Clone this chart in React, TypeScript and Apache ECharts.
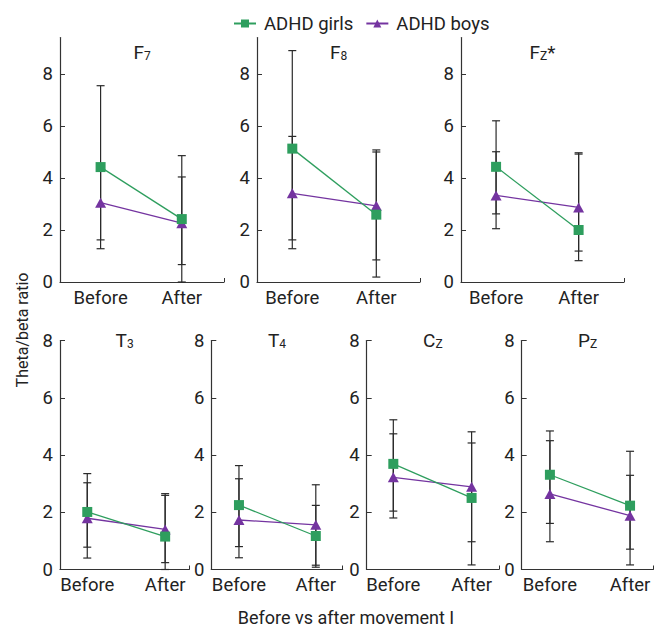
import React, { useEffect, useRef } from "react";
import * as echarts from "echarts";

// ---- data ----
const panelNames = ["F7", "F8", "Fz*", "T3", "T4", "Cz", "Pz"];
const timeLabels = ["Before", "After"];
const yTickValues = [0, 2, 4, 6, 8];

// means: [before, after]
const girlsMean = [
  [4.42, 2.42],
  [5.13, 2.59],
  [4.43, 2.0],
  [2.01, 1.15],
  [2.25, 1.17],
  [3.69, 2.5],
  [3.31, 2.23],
];
const boysMean = [
  [3.05, 2.26],
  [3.41, 2.93],
  [3.33, 2.87],
  [1.79, 1.4],
  [1.73, 1.56],
  [3.22, 2.89],
  [2.64, 1.88],
];
// error bar ends: [[beforeLow, beforeHigh], [afterLow, afterHigh]]
const girlsErr = [
  [[1.28, 7.55], [0.0, 4.86]],
  [[1.28, 8.9], [0.19, 5.0]],
  [[2.62, 6.2], [1.19, 4.97]],
  [[0.78, 3.35], [0.0, 2.65]],
  [[0.8, 3.63], [0.08, 2.24]],
  [[1.8, 5.23], [0.16, 4.81]],
  [[1.61, 4.84], [0.16, 4.13]],
];
const boysErr = [
  [[1.62, 4.48], [0.67, 4.04]],
  [[1.62, 5.6], [0.85, 5.08]],
  [[2.05, 5.01], [0.82, 4.92]],
  [[0.4, 3.03], [0.24, 2.59]],
  [[0.41, 3.17], [0.15, 2.96]],
  [[2.04, 4.74], [0.97, 4.42]],
  [[0.97, 4.5], [0.71, 3.29]],
];

// ---- layout ----
const GREEN = "#2e9e5e";
const PURPLE = "#7434a0";
const AXIS = "#333";
const FONT = "Roboto, 'Liberation Sans', sans-serif";

const layout = [
  { left: 60, width: 164, top: 37.6, height: 244.4, ymax: 9.4, xmin: 0.5, xmax: 2.52 },
  { left: 257, width: 163, top: 37.6, height: 244.4, ymax: 9.4, xmin: 0.58, xmax: 2.52 },
  { left: 461, width: 163, top: 37.6, height: 244.4, ymax: 9.4, xmin: 0.575, xmax: 2.55 },
  { left: 60, width: 129.3, top: 340.5, height: 229, ymax: 8, xmin: 0.65, xmax: 2.31 },
  { left: 211.3, width: 131.4, top: 340.5, height: 229, ymax: 8, xmin: 0.64, xmax: 2.35 },
  { left: 366.7, width: 132.3, top: 340.5, height: 229, ymax: 8, xmin: 0.66, xmax: 2.35 },
  { left: 521.7, width: 131.6, top: 340.5, height: 229, ymax: 8, xmin: 0.648, xmax: 2.29 },
];
const titleY = [42, 42, 42, 330, 330, 330, 330];

function titleRich(name: string) {
  const star = name.endsWith("*");
  const base = star ? name.slice(0, -1) : name;
  const main = base[0];
  const sub = base.slice(1).toUpperCase();
  return `{m|${main}}{s|${sub}}` + (star ? "{m|*}" : "");
}

export default function App() {
  const ref = useRef<HTMLDivElement>(null);
  useEffect(() => {
    if (!ref.current) return;
    const chart = echarts.init(ref.current, null, { renderer: "svg" });

    const grids = layout.map((l) => ({ left: l.left, top: l.top, width: l.width, height: l.height, containLabel: false }));
    const xAxes = layout.map((l, i) => ({
      type: "value",
      gridIndex: i,
      min: l.xmin,
      max: l.xmax,
      splitLine: { show: false },
      axisLine: { show: true, onZero: false, lineStyle: { color: AXIS, width: 1.2 } },
      axisTick: { show: true, inside: true, length: 4, customValues: [l.xmax], lineStyle: { color: AXIS } },
      axisLabel: {
        customValues: [1, 2],
        formatter: (v: number) => timeLabels[Math.round(v) - 1],
        color: "#222",
        fontSize: 18.5,
        fontFamily: FONT,
        margin: 6,
      },
    }));
    const yAxes = layout.map((l, i) => ({
      type: "value",
      gridIndex: i,
      min: 0,
      max: l.ymax,
      splitLine: { show: false },
      axisLine: { show: true, lineStyle: { color: AXIS, width: 1.2 } },
      axisTick: { show: true, inside: true, length: 5, customValues: [2, 4, 6, 8], lineStyle: { color: AXIS } },
      axisLabel: { customValues: yTickValues, color: "#222", fontSize: 18.5, fontFamily: FONT, margin: 7 },
    }));

    const series: any[] = [];
    panelNames.forEach((_, i) => {
      const errData = [
        [1, girlsErr[i][0][0], girlsErr[i][0][1]],
        [2, girlsErr[i][1][0], girlsErr[i][1][1]],
        [1, boysErr[i][0][0], boysErr[i][0][1]],
        [2, boysErr[i][1][0], boysErr[i][1][1]],
      ];
      series.push({
        type: "custom",
        name: "err" + i,
        xAxisIndex: i,
        yAxisIndex: i,
        z: 1,
        silent: true,
        data: errData,
        encode: { x: 0, y: [1, 2] },
        renderItem: (params: any, api: any) => {
          const x = api.value(0);
          const lo = api.coord([x, api.value(1)]);
          const hi = api.coord([x, api.value(2)]);
          const hw = 4;
          const style = { stroke: "#2a2a2a", lineWidth: 1.2 };
          return {
            type: "group",
            children: [
              { type: "line", shape: { x1: lo[0], y1: lo[1], x2: hi[0], y2: hi[1] }, style },
              { type: "line", shape: { x1: lo[0] - hw, y1: lo[1], x2: lo[0] + hw, y2: lo[1] }, style },
              { type: "line", shape: { x1: hi[0] - hw, y1: hi[1], x2: hi[0] + hw, y2: hi[1] }, style },
            ],
          };
        },
      });
      series.push({
        type: "line",
        name: "ADHD girls",
        xAxisIndex: i,
        yAxisIndex: i,
        z: 3,
        data: [[1, girlsMean[i][0]], [2, girlsMean[i][1]]],
        symbol: "rect",
        symbolSize: 10,
        itemStyle: { color: GREEN },
        lineStyle: { color: GREEN, width: 1.3 },
      });
      series.push({
        type: "line",
        name: "ADHD boys",
        xAxisIndex: i,
        yAxisIndex: i,
        z: 2,
        data: [[1, boysMean[i][0]], [2, boysMean[i][1]]],
        symbol: "triangle",
        symbolSize: [11, 10],
        itemStyle: { color: PURPLE },
        lineStyle: { color: PURPLE, width: 1.3 },
      });
    });

    const titles = panelNames.map((n, i) => ({
      text: titleRich(n),
      left: layout[i].left + layout[i].width / 2,
      top: titleY[i],
      textAlign: "center",
      padding: 0,
      textStyle: {
        fontWeight: "normal",
        rich: {
          m: { fontSize: 19, fontFamily: FONT, fontWeight: "normal", color: "#222", verticalAlign: "bottom", lineHeight: 20 },
          s: { fontSize: 12, fontFamily: FONT, fontWeight: "normal", color: "#222", verticalAlign: "bottom", lineHeight: 16 },
        },
      },
    }));

    chart.setOption({
      animation: false,
      backgroundColor: "#fff",
      title: titles,
      legend: {
        data: ["ADHD girls", "ADHD boys"],
        left: 228,
        top: 9,
        itemWidth: 22,
        itemHeight: 10,
        itemGap: 12,
        textStyle: { fontSize: 18.5, fontFamily: FONT, color: "#222", padding: [0, 0, 0, 3] },
      },
      grid: grids,
      xAxis: xAxes,
      yAxis: yAxes,
      series,
      graphic: [
        {
          type: "text",
          x: 22,
          y: 330,
          rotation: Math.PI / 2,
          style: { text: "Theta/beta ratio", fontSize: 16, fontFamily: FONT, fill: "#222", textAlign: "center", textVerticalAlign: "middle" },
        },
        {
          type: "text",
          x: 346,
          y: 617,
          style: { text: "Before vs after movement I", fontSize: 18, fontFamily: FONT, fill: "#222", textAlign: "center", textVerticalAlign: "middle" },
        },
      ],
    });
    return () => chart.dispose();
  }, []);
  return <div ref={ref} style={{ position: "fixed", left: 0, top: 0, width: 657, height: 628 }} />;
}
